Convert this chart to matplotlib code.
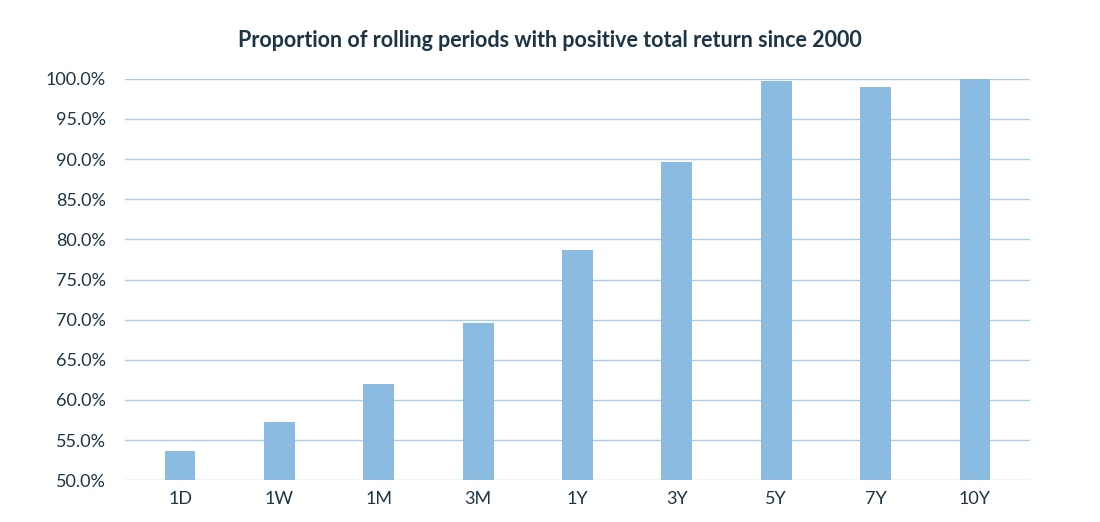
import matplotlib.pyplot as plt
from matplotlib.ticker import FuncFormatter

categories = ['1D', '1W', '1M', '3M', '1Y', '3Y', '5Y', '7Y', '10Y']
values = [53.7, 57.3, 62.0, 69.6, 78.7, 89.7, 99.7, 99.0, 100.0]
yticks = [50, 55, 60, 65, 70, 75, 80, 85, 90, 95, 100]

text_color = '#1d3444'
plt.rcParams['font.family'] = 'Lato'

fig = plt.figure(figsize=(11, 5.22), dpi=100)
ax = fig.add_axes([0.114, 0.080, 0.822, 0.769])

ax.bar(range(len(categories)), values, width=0.31, color='#8bbbe0', zorder=3)
ax.set_ylim(50, 100)
ax.set_xlim(-0.55, len(categories) - 0.45)
ax.set_yticks(yticks)
ax.yaxis.set_major_formatter(FuncFormatter(lambda v, p: f'{v:.1f}%'))
ax.set_xticks(range(len(categories)))
ax.set_xticklabels(categories)
ax.grid(axis='y', color='#a9cde6', linewidth=1, zorder=0)
for s in ax.spines.values():
    s.set_visible(False)
ax.tick_params(length=0, colors=text_color, labelsize=13)
ax.tick_params(axis='y', pad=14)
ax.tick_params(axis='x', pad=8)

fig.text(0.5, 0.923, 'Proportion of rolling periods with positive total return since 2000',
         ha='center', va='center', fontsize=15.5, fontweight='bold', color=text_color)

fig.savefig('out.png', dpi=100)
